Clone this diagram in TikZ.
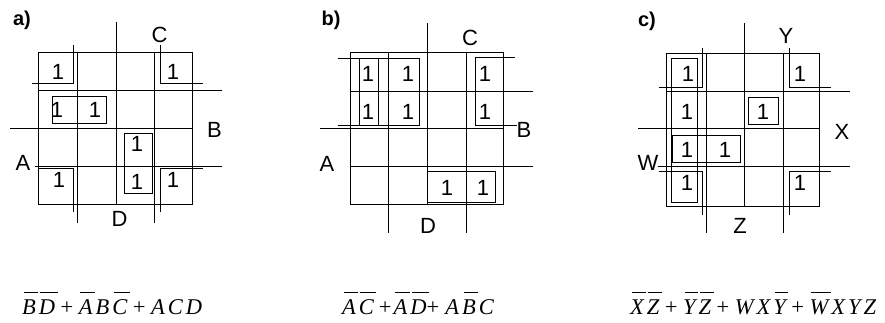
\documentclass[tikz,border=0pt]{standalone}
\usepackage{fontspec}
\setmainfont{Liberation Sans}
\newfontfamily\eqfont{Liberation Serif}
% complemented variable: letter with its own bar above it
\newcommand\ovl[1]{{\setbox0\hbox{#1}\rlap{\kern1.5pt\raise\dimexpr\ht0+6.5pt\relax\hbox{\vrule width\dimexpr\wd0+1pt\relax height 0.8pt depth 0pt}}\box0}}
\newcommand\lk{\kern3pt}
\newcommand\pl{\kern5.5pt{\upshape+}\kern5.5pt}
\begin{document}
\begin{tikzpicture}[x=1pt,y=-1pt,
  gridline/.style={line width=0.9pt,black},
  grp/.style={line width=0.9pt,black},
  one/.style={inner sep=0pt,font=\fontsize{22}{22}\selectfont},
  var/.style={inner sep=0pt,font=\fontsize{22}{22}\selectfont},
  tag/.style={inner sep=0pt,font=\fontsize{20}{20}\selectfont\bfseries},
  expr/.style={inner sep=0pt,anchor=base west,font=\eqfont\fontsize{22.5}{22.5}\selectfont\itshape}]
\useasboundingbox (0,0) rectangle (885,322);

% ---------------- map a) ----------------
\node[tag] (taga) at (22,20) {a)};
\draw[gridline] (38,52) rectangle (192,204);
\draw[gridline] (116,22) -- (116,204);
\draw[gridline] (77.5,52) -- (77.5,223);
\draw[gridline] (154.5,52) -- (154.5,223);
\draw[gridline] (38,90) -- (222,90);
\draw[gridline] (10,128) -- (192,128);
\draw[gridline] (35,166) -- (222,166);
\node[var] (aC) at (159.5,35) {C};
\node[var] (aB) at (214.5,130) {B};
\node[var] (aD) at (119.5,219) {D};
\node[var] (aA) at (23,163) {A};
\node[one] (a11) at (58,72) {1};
\node[one] (a14) at (173,72) {1};
\node[one] (a21) at (57,110) {1};
\node[one] (a22) at (95,110) {1};
\node[one] (a33) at (137,144) {1};
\node[one] (a41) at (59,180) {1};
\node[one] (a43) at (137,182) {1};
\node[one] (a44) at (173,180) {1};
% corner group and the two blocks
\draw[grp] (73,45) -- (73,83) -- (32,83);
\draw[grp] (160,45) -- (160,83) -- (203,83);
\draw[grp] (38,168) -- (73,168) -- (73,212);
\draw[grp] (203,168) -- (160,168) -- (160,212);
\draw[grp] (52,96) rectangle (106,123);
\draw[grp] (124,133) rectangle (152,193);
\node[expr] (fa) at (22,314) {\ovl{B}\lk\ovl{D}\pl\ovl{A}\lk B\lk\ovl{C}\pl A\lk C\lk D};

% ---------------- map b) ----------------
\node[tag] (tagb) at (331,20) {b)};
\draw[gridline] (350,52) rectangle (503,204);
\draw[gridline] (427,23) -- (427,204);
\draw[gridline] (388.5,52) -- (388.5,233);
\draw[gridline] (466,52) -- (466,233);
\draw[gridline] (350,91) -- (533,91);
\draw[gridline] (320,128) -- (503,128);
\draw[gridline] (350,166) -- (533,166);
\node[var] (bC) at (470,37.5) {C};
\node[var] (bB) at (524,130) {B};
\node[var] (bD) at (428,226) {D};
\node[var] (bA) at (327,164) {A};
\node[one] (b11) at (368,74) {1};
\node[one] (b12) at (408,74) {1};
\node[one] (b14) at (485,74) {1};
\node[one] (b21) at (368,112) {1};
\node[one] (b22) at (408,112) {1};
\node[one] (b24) at (485,112) {1};
\node[one] (b43) at (447,188) {1};
\node[one] (b44) at (483,188) {1};
% groups
\draw[grp] (338,58) -- (419,58) -- (419,125.5) -- (338,125.5);
\draw[grp] (359,58) -- (359,125.5);
\draw[grp] (378,58) -- (378,125.5);
\draw[grp] (515,57) -- (475,57) -- (475,125) -- (517,125);
\draw[grp] (427,171) rectangle (495,202);
\node[expr] (fb) at (342,314) {\ovl{A}\lk\ovl{C}\kern5pt{\upshape+}\kern2pt\ovl{A}\lk\ovl{D}{\upshape+}\kern6pt A\lk\ovl{B}\lk C};

% ---------------- map c) ----------------
\node[tag] (tagc) at (647,21) {c)};
\draw[gridline] (666,53) rectangle (819,206);
\draw[gridline] (744,23) -- (744,206);
\draw[gridline] (706,53) -- (706,233);
\draw[gridline] (783,53) -- (783,233);
\draw[gridline] (666,91) -- (850,91);
\draw[gridline] (638,128) -- (819,128);
\draw[gridline] (658,166) -- (850,166);
\node[var] (cY) at (786,36) {Y};
\node[var] (cX) at (842,132) {X};
\node[var] (cZ) at (740,226) {Z};
\node[var] (cW) at (648,163) {W};
\node[one] (c11) at (688,74) {1};
\node[one] (c14) at (800,74) {1};
\node[one] (c21) at (687,112) {1};
\node[one] (c23) at (763,112) {1};
\node[one] (c31) at (687,150) {1};
\node[one] (c32) at (725,150) {1};
\node[one] (c41) at (687,183) {1};
\node[one] (c44) at (800,183) {1};
% groups
\draw[grp] (702,48) -- (702,87) -- (659,87);
\draw[grp] (789,48) -- (789,87) -- (831,87);
\draw[grp] (659,171) -- (702,171) -- (702,215);
\draw[grp] (831,171) -- (789,171) -- (789,215);
\draw[grp] (671,58) rectangle (697,202);
\draw[grp] (672,135) rectangle (740,162);
\draw[grp] (748,97) rectangle (778,124);
\node[expr] (fc) at (630,314) {\ovl{X}\lk\ovl{Z}\pl\ovl{Y}\lk\ovl{Z}\pl W\lk X\lk\ovl{Y}\pl\ovl{W}\lk X\lk Y\lk Z};
\end{tikzpicture}
\end{document}
